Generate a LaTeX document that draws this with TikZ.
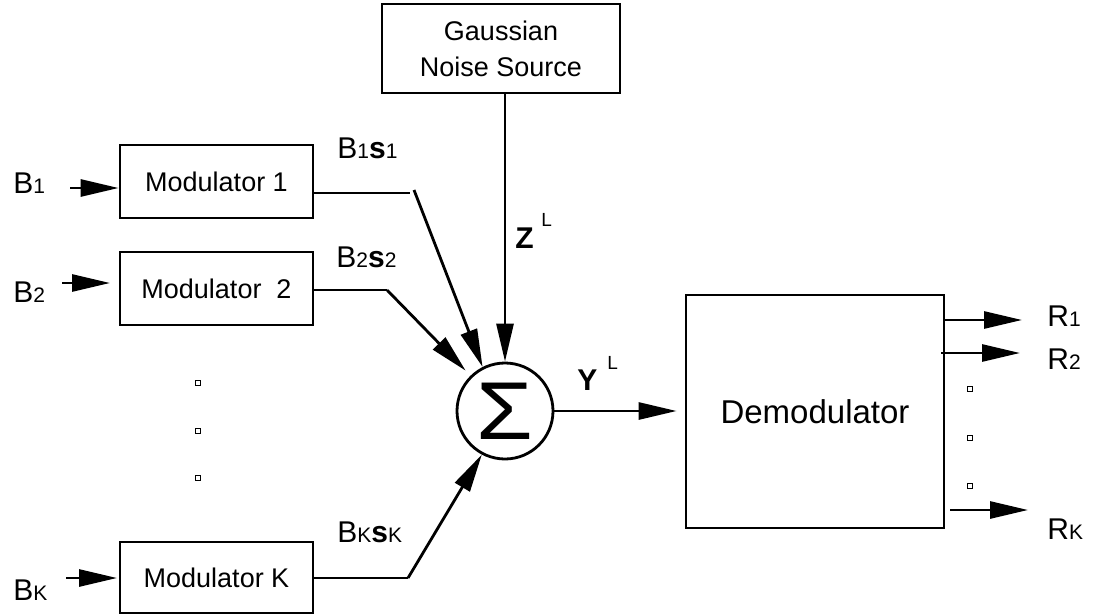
\documentclass[tikz,border=0pt]{standalone}
\usepackage{fontspec}
\setmainfont{Liberation Sans}
\usetikzlibrary{arrows.meta,calc}
\newcommand\lsub[1]{{\fontsize{21pt}{21pt}\selectfont #1}}
\begin{document}
\begin{tikzpicture}[x=1pt,y=-1pt,
  line width=2.8pt,
  arr/.style={-{Triangle[length=38pt,width=17pt]}},
  blk/.style={draw,rectangle,inner sep=0pt,font=\fontsize{27pt}{36pt}\selectfont,align=center},
  lbl/.style={inner sep=0pt,anchor=base west,font=\fontsize{30pt}{30pt}\selectfont},
  suplbl/.style={inner sep=0pt,anchor=base west,font=\fontsize{19pt}{19pt}\selectfont},
  dotsq/.style={draw,rectangle,line width=0.8pt,minimum size=4.5pt,inner sep=0pt}]
\useasboundingbox (0,0) rectangle (1099,615);

% blocks
\node[blk,minimum width=238pt,minimum height=89pt] (gauss) at (501,48.5) {Gaussian\\Noise Source};
\node[blk,minimum width=193pt,minimum height=73pt] (mod1) at (216.5,181.5) {Modulator 1};
\node[blk,minimum width=193pt,minimum height=73pt] (mod2) at (216.5,288.5) {Modulator\ \ 2};
\node[blk,minimum width=193pt,minimum height=71pt] (modK) at (216.5,577.5) {Modulator K};
\node[blk,minimum width=258pt,minimum height=233pt,font=\fontsize{33pt}{33pt}\selectfont] (demod) at (815,411.5) {Demodulator};
\node[draw,circle,minimum size=96pt,inner sep=0pt] (sum) at (505,411) {};
\node[inner sep=0pt,font=\fontsize{82pt}{82pt}\selectfont,xscale=1.12] (sigma) at (505,411) {Σ};

% input labels
\node[lbl] (b1) at (12,193) {B\lsub{1}};
\node[lbl] (b2) at (12,302) {B\lsub{2}};
\node[lbl] (bK) at (12,600) {B\lsub{K}};

% input arrows
\coordinate (i1) at (70,188);
\coordinate (i2) at (62,283);
\coordinate (i2e) at (110,283);
\coordinate (iK) at (66,578);
\coordinate (iKe) at (117,578);
\draw[arr] (i1) -- (mod1.west |- i1);
\draw[arr] (i2) -- (i2e);
\draw[arr] (iK) -- (iKe);

% modulator outputs
\coordinate (m1a) at (410,193);
\coordinate (m1b) at (414,190);
\coordinate (m2a) at (387,290);
\coordinate (mKa) at (408,578);
\draw (mod1.east |- m1a) -- (m1a);
\draw[arr] (m1b) -- (sum.117);
\draw (mod2.east |- m2a) -- (m2a);
\draw[arr,shorten >=7pt] (m2a) -- (sum);
\draw (modK.east |- mKa) -- (mKa);
\draw[arr] (mKa) -- (sum.242);

\node[lbl] (l1) at (336,158) {B\lsub{1}\textbf{s}\lsub{1}};
\node[lbl] (l2) at (335,267) {B\lsub{2}\textbf{s}\lsub{2}};
\node[lbl] (lK) at (336,542) {B\lsub{K}\textbf{s}\lsub{K}};

% noise
\draw[arr] (sum.north |- gauss.south) -- (sum.north);
\node[lbl] (zl) at (514,248) {\textbf{Z}};
\node[suplbl] (zsup) at (540,226) {L};

% sum to demod
\draw[arr,shorten >=8pt] (sum.east) -- (demod.west |- sum.east);
\node[lbl] (yl) at (576,390) {\textbf{Y}};
\node[suplbl] (ysup) at (606,369) {L};

% dots
\node[dotsq] (d1) at (198,383) {};
\node[dotsq] (d2) at (198,431) {};
\node[dotsq] (d3) at (198,478) {};
\node[dotsq] (e1) at (970,389) {};
\node[dotsq] (e2) at (970,438) {};
\node[dotsq] (e3) at (970,486) {};

% outputs
\coordinate (r1) at (1022,320);
\coordinate (r2) at (1020,353);
\coordinate (rK) at (1028,510);
\draw[arr] (demod.east |- r1) -- (r1);
\draw[arr] ([xshift=-4pt]demod.east |- r2) -- (r2);
\draw[arr] ([xshift=5pt]demod.east |- rK) -- (rK);
\node[lbl] (R1) at (1046,326) {R\lsub{1}};
\node[lbl] (R2) at (1046,369) {R\lsub{2}};
\node[lbl] (RK) at (1046,539) {R\lsub{K}};
\end{tikzpicture}
\end{document}
